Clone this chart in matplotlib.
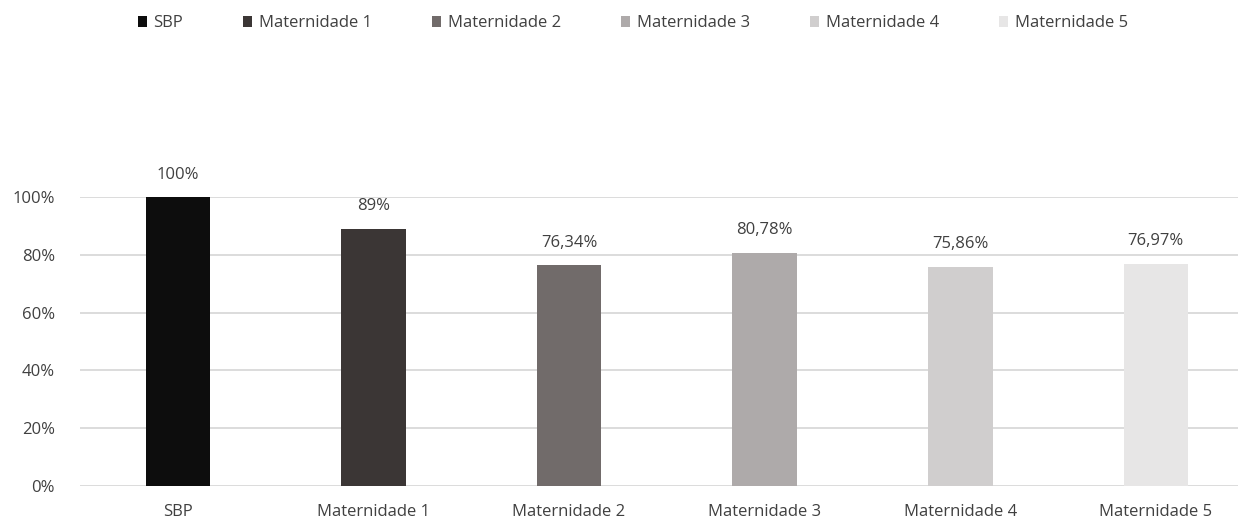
import matplotlib.pyplot as plt
from matplotlib.patches import Patch

categories = ["SBP", "Maternidade 1", "Maternidade 2", "Maternidade 3",
              "Maternidade 4", "Maternidade 5"]
values = [100, 89, 76.34, 80.78, 75.86, 76.97]
colors = ["#0d0d0d", "#3b3635", "#716b6a", "#aeaaaa", "#d0cece", "#e7e6e6"]
yticks = [0, 20, 40, 60, 80, 100]

plt.rcParams["font.family"] = ["Open Sans", "DejaVu Sans"]
TEXT = "#404040"


def fmt(v):
    if float(v).is_integer():
        return f"{int(v)}%"
    return f"{v:.2f}".replace(".", ",") + "%"


fig = plt.figure(figsize=(12.41, 5.2), dpi=100)
ax = fig.add_axes([80 / 1241, 34 / 520, 1158 / 1241, 289 / 520])

x = list(range(len(categories)))
ax.bar(x, values, width=0.33, color=colors, zorder=3)

for xi, v in zip(x, values):
    ax.text(xi, v + 5, fmt(v), ha="center", va="bottom", fontsize=12,
            color=TEXT, clip_on=False)

ax.set_ylim(0, 100)
ax.set_xlim(-0.5, 5.42)
ax.set_yticks(yticks)
ax.set_yticklabels([f"{t}%" for t in yticks])
ax.set_xticks(x)
ax.set_xticklabels(categories)
ax.tick_params(axis="both", length=0, labelsize=12, labelcolor=TEXT)
ax.tick_params(axis="y", pad=18)
ax.tick_params(axis="x", pad=13)
ax.yaxis.grid(True, color="#d9d9d9", linewidth=1.3, zorder=0)
for s in ax.spines.values():
    s.set_visible(False)

handles = [Patch(facecolor=c, edgecolor="none") for c in colors]
fig.legend(handles, categories, loc="center", bbox_to_anchor=(0.51, 0.955),
           ncol=6, frameon=False, fontsize=12, handlelength=0.55,
           handleheight=0.55, handletextpad=0.4, columnspacing=3.6,
           labelcolor=TEXT)

fig.savefig("out.png", dpi=100)
